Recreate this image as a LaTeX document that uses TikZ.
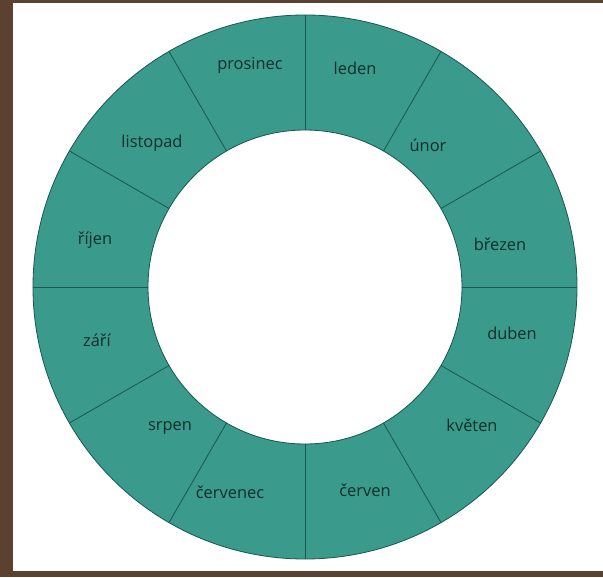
\documentclass[tikz,border=0pt]{standalone}
\usepackage{fontspec}
\setmainfont{Open Sans}
\usetikzlibrary{positioning}
\definecolor{frameB}{RGB}{91,66,48}
\definecolor{ringG}{RGB}{58,155,140}
\definecolor{edgeG}{RGB}{28,88,78}
\definecolor{txtG}{RGB}{16,46,42}

\begin{document}
\begin{tikzpicture}[x=1cm,y=1cm,font=\fontsize{14}{16}\selectfont,
   mo/.style={text=txtG,inner sep=1pt},
   e/.style={draw=edgeG,line width=0.7pt}]
%% ---- frame ----
\fill[frameB] (-9.15,-8.7) rectangle (8.94,8.61);
\fill[white] (-8.76,-8.52) rectangle (8.94,8.52);
\useasboundingbox (-9.15,-8.7) rectangle (8.94,8.61);
%% ---- ring of twelve sectors ----
\fill[ringG,even odd rule] (0,0) circle (8.16) (0,0) circle (4.71);
\draw[e] (0,0) circle (8.16);
\draw[e] (0,0) circle (4.71);
\foreach \a in {0,30,...,330}
  \draw[e] (\a:4.71) -- (\a:8.16);
%% ---- months, clockwise from the top ----
\node[mo] (m1) at (1.5,6.57) {leden};
\node[mo] (m2) at (3.69,4.26) {únor};
\node[mo] (m3) at (5.85,1.29) {březen};
\node[mo] (m4) at (6.21,-1.38) {duben};
\node[mo] (m5) at (5.01,-4.14) {květen};
\node[mo] (m6) at (1.8,-6.09) {červen};
\node[mo] (m7) at (-2.25,-6.15) {červenec};
\node[mo] (m8) at (-4.05,-4.23) {srpen};   % sits nearer the hole
\node[mo] (m9) at (-6.24,-1.59) {září};
\node[mo] (m10) at (-6.3,1.41) {říjen};
\node[mo] (m11) at (-4.59,4.32) {listopad};
\node[mo] (m12) at (-1.65,6.66) {prosinec};
\end{tikzpicture}
\end{document}
